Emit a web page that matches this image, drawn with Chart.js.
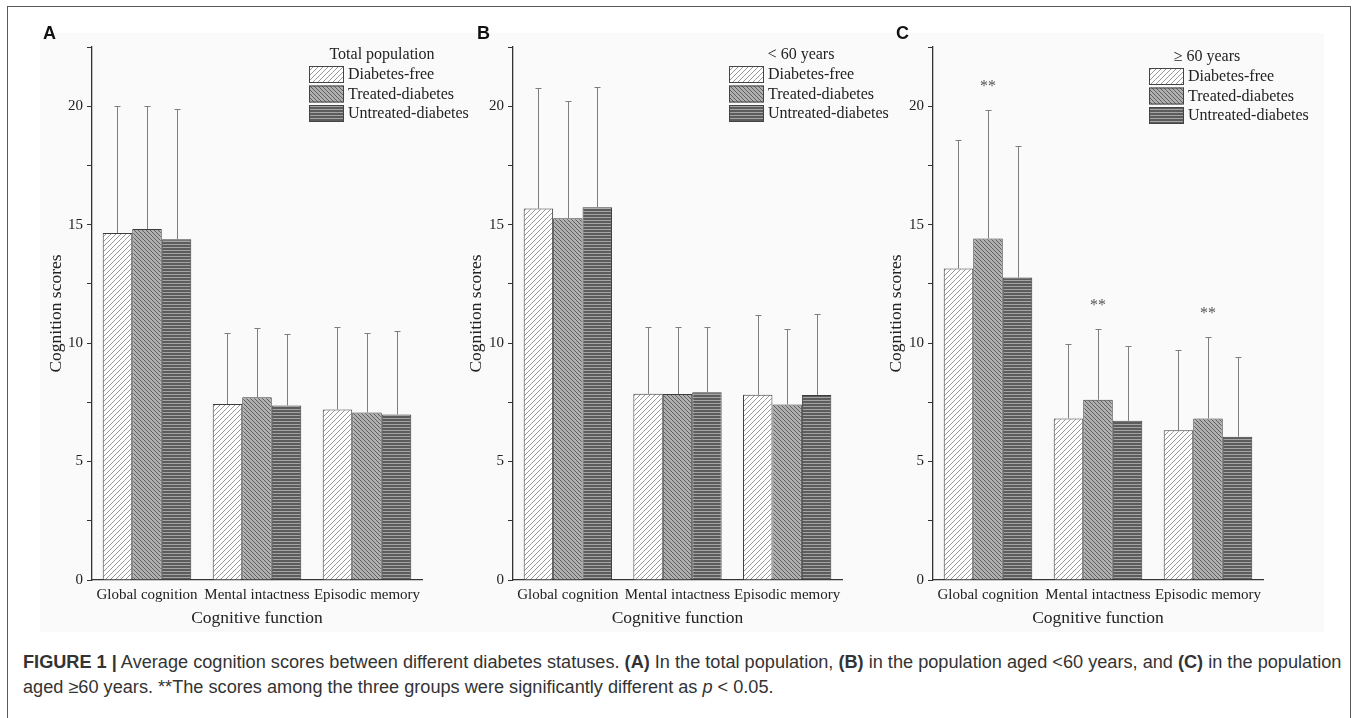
<!DOCTYPE html>
<html>
<head>
<meta charset="utf-8">
<script src="https://cdn.jsdelivr.net/npm/chart.js@4.4.0/dist/chart.umd.min.js"></script>
<style>
  body { margin: 0; width: 1357px; height: 718px; overflow: hidden; background: #fff; position: relative; }
  .frame { position: absolute; left: 7px; top: 6px; width: 1342px; height: 760px; border: 1.5px solid #5a5a5a; }
  .bg { position: absolute; left: 40px; top: 33px; width: 1284px; height: 599px; background: #fafafa; }
  .panel { position: absolute; top: 0; height: 640px; }
  .tag { position: absolute; top: 24px; font: bold 18px "Liberation Sans", Arial, sans-serif; color: #111; line-height: 18px; }
  .cap { position: absolute; left: 23px; white-space: nowrap; transform-origin: 0 0; line-height: 20px;
         font: 17.5px "Liberation Sans", Arial, sans-serif; color: #333; }
</style>
</head>
<body>
<div class="frame"></div>
<div class="bg"></div>
<div class="panel" style="left:40px;width:440px"><canvas id="chart-a"></canvas></div>
<div class="panel" style="left:460px;width:440px"><canvas id="chart-b"></canvas></div>
<div class="panel" style="left:880px;width:450px"><canvas id="chart-c"></canvas></div>
<div class="tag" style="left:43px">A</div>
<div class="tag" style="left:477px">B</div>
<div class="tag" style="left:896px">C</div>
<div class="cap" id="cap1" style="top:652px"><b>FIGURE 1 |</b> Average cognition scores between different diabetes statuses. <b>(A)</b> In the total population, <b>(B)</b> in the population aged &lt;60 years, and <b>(C)</b> in the population</div>
<div class="cap" id="cap2" style="top:677px">aged ≥60 years. **The scores among the three groups were significantly different as <i>p</i> &lt; 0.05.</div>

<script>
const categories = ["Global cognition", "Mental intactness", "Episodic memory"];
const groups = ["Diabetes-free", "Treated-diabetes", "Untreated-diabetes"];
const yLabels = [0, 5, 10, 15, 20];

// means per group (rows) and category (cols), sd = length of the error bar
const meansTotal = [[14.65, 7.43, 7.20], [14.82, 7.71, 7.07], [14.38, 7.37, 6.99]];
const sdTotal    = [[5.38, 2.99, 3.46], [5.18, 2.92, 3.36], [5.49, 3.02, 3.53]];
const meansYoung = [[15.68, 7.86, 7.82], [15.27, 7.85, 7.41], [15.74, 7.93, 7.81]];
const sdYoung    = [[5.10, 2.81, 3.37], [4.93, 2.84, 3.19], [5.06, 2.77, 3.44]];
const meansOld   = [[13.15, 6.82, 6.32], [14.42, 7.61, 6.82], [12.77, 6.72, 6.05]];
const sdOld      = [[5.44, 3.14, 3.37], [5.40, 2.99, 3.43], [5.55, 3.17, 3.36]];
const sigOld = [true, true, true];

const serif = "'Liberation Serif', 'Times New Roman', serif";

function hatch(kind) {
  const c = document.createElement("canvas");
  const g = c.getContext("2d");
  if (kind === "free") {
    c.width = c.height = 5;
    g.fillStyle = "#ffffff"; g.fillRect(0, 0, 5, 5);
    g.strokeStyle = "#8c8c8c"; g.lineWidth = 0.9;
    g.beginPath();
    g.moveTo(-1, 6); g.lineTo(6, -1);
    g.stroke();
  } else if (kind === "treated") {
    c.width = c.height = 4;
    g.fillStyle = "#b0b0b0"; g.fillRect(0, 0, 4, 4);
    g.strokeStyle = "#555"; g.lineWidth = 0.9;
    g.beginPath();
    g.moveTo(-1, -1); g.lineTo(5, 5);
    g.stroke();
  } else {
    c.width = 4; c.height = 3;
    g.fillStyle = "#5c5c5c"; g.fillRect(0, 0, 4, 3);
    g.fillStyle = "#a4a4a4"; g.fillRect(0, 1, 4, 1);
  }
  return g.createPattern(c, "repeat");
}
const fills = [hatch("free"), hatch("treated"), hatch("untreated")];

const extras = {
  id: "extras",
  afterDatasetsDraw(chart, args, opts) {
    const ctx = chart.ctx;
    const y = chart.scales.y;
    ctx.save();
    chart.data.datasets.forEach((ds, i) => {
      chart.getDatasetMeta(i).data.forEach((bar, j) => {
        const top = Math.round(y.getPixelForValue(ds.data[j] + ds.sd[j]));
        const x = Math.round(bar.x) + 0.5;
        ctx.strokeStyle = "#7e7e7e";
        ctx.lineWidth = 1;
        ctx.beginPath();
        ctx.moveTo(x, bar.y);
        ctx.lineTo(x, top);
        ctx.moveTo(x - 3, top + 0.5);
        ctx.lineTo(x + 3, top + 0.5);
        ctx.stroke();
        if (i === 1 && opts.sig && opts.sig[j]) {
          ctx.fillStyle = "#555";
          ctx.font = "16px " + serif;
          ctx.textAlign = "center";
          ctx.textBaseline = "middle";
          ctx.fillText("**", bar.x, top - 23);
        }
      });
    });

    // legend
    const left = chart.chartArea.right - opts.dx;
    ctx.font = "16px " + serif;
    ctx.fillStyle = "#222";
    ctx.textAlign = "center";
    ctx.textBaseline = "middle";
    ctx.fillText(opts.title, left + opts.titleDx, opts.top - 11);
    ctx.textAlign = "left";
    groups.forEach((g, i) => {
      const ry = opts.top + i * 19.5;
      ctx.fillStyle = fills[i];
      ctx.fillRect(left, ry, 35, 17);
      ctx.strokeStyle = "#444";
      ctx.lineWidth = 1;
      ctx.strokeRect(left + 0.5, ry + 0.5, 34, 16);
      ctx.fillStyle = "#222";
      ctx.fillText(g, left + 39, ry + 9);
    });
    ctx.restore();
  }
};

function makeChart(id, means, sds, legend, yWidth, padRight) {
  return new Chart(document.getElementById(id), {
    type: "bar",
    data: {
      labels: categories,
      datasets: groups.map((g, i) => ({
        label: g,
        data: means[i],
        sd: sds[i],
        backgroundColor: fills[i],
        borderColor: "#3c3c3c",
        borderWidth: 1,
        categoryPercentage: 0.805,
        barPercentage: 1
      }))
    },
    options: {
      responsive: true,
      maintainAspectRatio: false,
      animation: false,
      layout: { padding: { top: 47, right: padRight, left: 0, bottom: 0 } },
      plugins: {
        legend: { display: false },
        tooltip: { enabled: false },
        extras: legend
      },
      scales: {
        x: {
          grid: { display: false, drawTicks: false },
          border: { color: "#333", width: 1.3 },
          ticks: { color: "#222", font: { family: serif, size: 15 }, padding: 6, maxRotation: 0, autoSkip: false },
          title: { display: true, text: "Cognitive function", color: "#222", font: { family: serif, size: 17.5 }, padding: { top: 0, bottom: 11 } },
          afterFit: s => { s.height = 60; }
        },
        y: {
          min: 0,
          max: 22.5,
          ticks: {
            stepSize: 2.5,
            color: "#222",
            font: { family: serif, size: 15 },
            padding: 4,
            callback: v => yLabels.includes(v) ? v : ""
          },
          grid: { drawOnChartArea: false, tickLength: 5, color: "#333", lineWidth: 1 },
          border: { color: "#333", width: 1.3 },
          title: { display: true, text: "Cognition scores", color: "#222", font: { family: serif, size: 17.5 }, padding: { top: 6, bottom: 0 } },
          afterFit: s => { s.width = yWidth; }
        }
      }
    },
    plugins: [extras]
  });
}

makeChart("chart-a", meansTotal, sdTotal, { title: "Total population", dx: 113, titleDx: 73, top: 66 }, 52, 58);
makeChart("chart-b", meansYoung, sdYoung, { title: "< 60 years", dx: 113, titleDx: 72, top: 66 }, 53, 58);
makeChart("chart-c", meansOld, sdOld, { title: "≥ 60 years", dx: 114, titleDx: 58, top: 68, sig: sigOld }, 53, 67);

// caption line 1 spans x 23..1341 in the figure; line 2 uses the same squeeze
const cap1 = document.getElementById("cap1");
const squeeze = 1318 / cap1.scrollWidth;
document.querySelectorAll(".cap").forEach(el => {
  el.style.transform = "scaleX(" + squeeze + ")";
});
</script>
</body>
</html>
